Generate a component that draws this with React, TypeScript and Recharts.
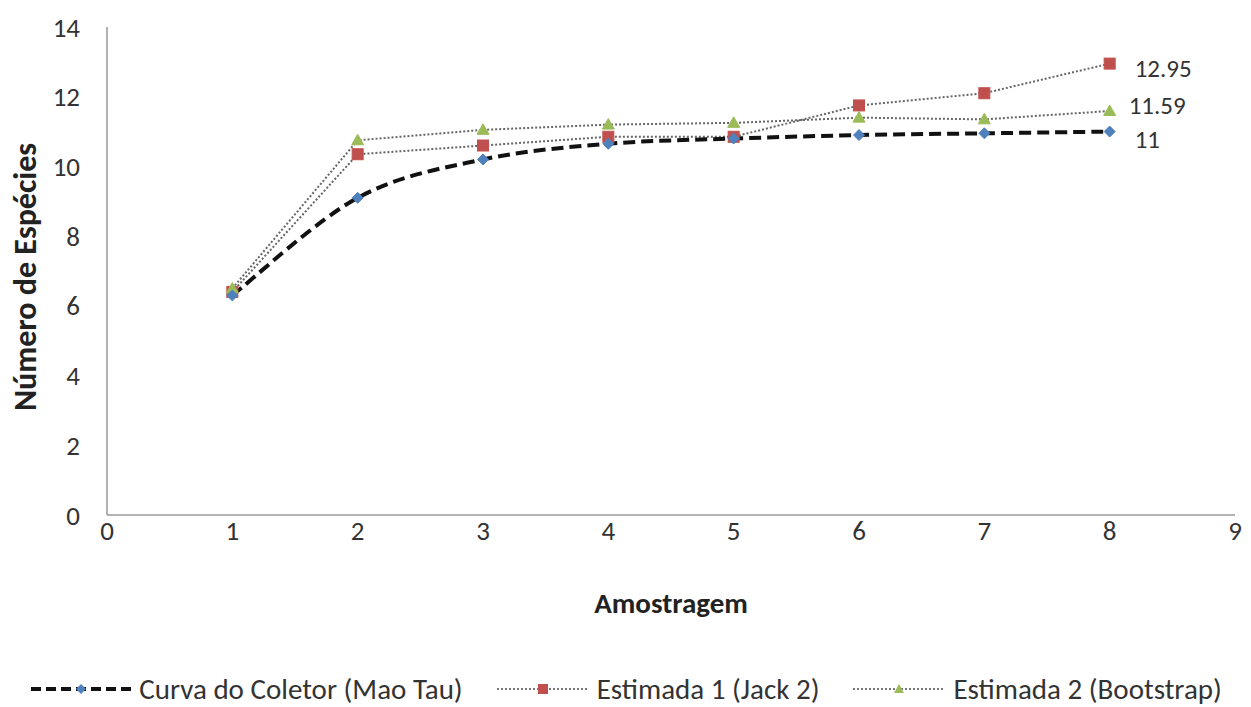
import React from 'react';
import { LineChart, Line, XAxis, YAxis, Legend } from 'recharts';

const samples = [1, 2, 3, 4, 5, 6, 7, 8];
const maoTau = [6.3, 9.1, 10.2, 10.65, 10.8, 10.9, 10.95, 11];
const jack2 = [6.4, 10.35, 10.6, 10.85, 10.85, 11.75, 12.1, 12.95];
const bootstrap = [6.5, 10.75, 11.05, 11.2, 11.25, 11.4, 11.35, 11.59];
const xTicks = [0, 1, 2, 3, 4, 5, 6, 7, 8, 9];
const yTicks = [0, 2, 4, 6, 8, 10, 12, 14];

const seriesNames = ['Curva do Coletor (Mao Tau)', 'Estimada 1 (Jack 2)', 'Estimada 2 (Bootstrap)'];
const data = samples.map((s, i) => ({ x: s, maoTau: maoTau[i], jack2: jack2[i], bootstrap: bootstrap[i] }));

const FONT = "Carlito, 'Open Sans', sans-serif";
const BLUE = '#4F81BD';
const RED = '#C0504D';
const GREEN = '#9BBB59';
const TEXT = '#333';

// Excel-like smoothed line (Catmull-Rom to Bezier)
const excelSmooth = (context: any) => {
  let pts: number[][] = [];
  return {
    areaStart() {},
    areaEnd() {},
    lineStart() {
      pts = [];
    },
    point(x: number, y: number) {
      pts.push([x, y]);
    },
    lineEnd() {
      if (!pts.length) return;
      context.moveTo(pts[0][0], pts[0][1]);
      for (let i = 0; i < pts.length - 1; i++) {
        const p0 = pts[i - 1] || pts[i];
        const p1 = pts[i];
        const p2 = pts[i + 1];
        const p3 = pts[i + 2] || p2;
        context.bezierCurveTo(
          p1[0] + (p2[0] - p0[0]) / 6,
          p1[1] + (p2[1] - p0[1]) / 6,
          p2[0] - (p3[0] - p1[0]) / 6,
          p2[1] - (p3[1] - p1[1]) / 6,
          p2[0],
          p2[1]
        );
      }
    },
  };
};

const Diamond = (p: any) => {
  const { cx, cy } = p;
  if (cx == null || cy == null) return null;
  const r = 5.5;
  return <path d={`M${cx},${cy - r}L${cx + r},${cy}L${cx},${cy + r}L${cx - r},${cy}Z`} fill={BLUE} stroke={BLUE} strokeWidth={1} />;
};
const Square = (p: any) => {
  const { cx, cy } = p;
  if (cx == null || cy == null) return null;
  return <rect x={cx - 5.5} y={cy - 5.5} width={11} height={11} fill={RED} stroke={RED} />;
};
const Triangle = (p: any) => {
  const { cx, cy } = p;
  if (cx == null || cy == null) return null;
  const r = 6;
  return <path d={`M${cx},${cy - r}L${cx + r},${cy + r * 0.75}L${cx - r},${cy + r * 0.75}Z`} fill={GREEN} stroke={GREEN} />;
};

const makeEndLabel = (dx: number, dy: number) => (props: any) => {
  const { x, y, value, index } = props;
  if (index !== samples.length - 1) return null;
  return (
    <text x={x + dx} y={y + dy} fontFamily={FONT} fontSize={25} fill={TEXT} dominantBaseline="central">
      {value}
    </text>
  );
};

const LegendContent = () => {
  const items = [
    { name: seriesNames[0], kind: 'dash', color: BLUE, w: 104 },
    { name: seriesNames[1], kind: 'dot', color: RED, w: 96 },
    { name: seriesNames[2], kind: 'dot', color: GREEN, w: 96 },
  ];
  return (
    <div style={{ display: 'flex', justifyContent: 'center', alignItems: 'center', gap: 32, height: 36, fontFamily: FONT, fontSize: 29, color: TEXT }}>
      {items.map((it, i) => (
        <div key={i} style={{ display: 'flex', alignItems: 'center', gap: 6 }}>
          <svg width={it.w} height={20}>
            {it.kind === 'dash' ? (
              <line x1={2} y1={10} x2={it.w - 2} y2={10} stroke="#111" strokeWidth={4} strokeDasharray="10 5" />
            ) : (
              <line x1={2} y1={10} x2={it.w - 2} y2={10} stroke="#777" strokeWidth={2} strokeDasharray="2 2" />
            )}
            {i === 0 && <path d={`M${it.w / 2},5L${it.w / 2 + 5},10L${it.w / 2},15L${it.w / 2 - 5},10Z`} fill={it.color} />}
            {i === 1 && <rect x={it.w / 2 - 5} y={5} width={10} height={10} fill={it.color} />}
            {i === 2 && <path d={`M${it.w / 2},5L${it.w / 2 + 5},14L${it.w / 2 - 5},14Z`} fill={it.color} />}
          </svg>
          <span>{it.name}</span>
        </div>
      ))}
    </div>
  );
};

export default function App() {
  return (
    <div style={{ position: 'absolute', left: 0, top: 0, width: 1251, height: 707, background: '#fff' }}>
      <LineChart width={1251} height={707} data={data} margin={{ top: 27, right: 16, left: 0, bottom: 46 }}>
        <XAxis
          dataKey="x"
          type="number"
          domain={[0, 9]}
          ticks={xTicks}
          interval={0}
          height={110}
          tickLine={false}
          axisLine={{ stroke: '#999', strokeWidth: 1.5 }}
          tick={{ fontFamily: FONT, fontSize: 27, fill: TEXT }}
          tickSize={4}
          tickMargin={2}
          label={{
            content: (p: any) => {
              const vb = p.viewBox;
              return (
                <text x={vb.x + vb.width / 2} y={vb.y + 98} textAnchor="middle" fontFamily={FONT} fontWeight="bold" fontSize={29} fill="#222">
                  Amostragem
                </text>
              );
            },
          }}
        />
        <YAxis
          type="number"
          domain={[0, 14]}
          ticks={yTicks}
          interval={0}
          width={107}
          tickLine={false}
          axisLine={{ stroke: '#999', strokeWidth: 1.5 }}
          tick={{ fontFamily: FONT, fontSize: 27, fill: TEXT }}
          tickSize={20}
          tickMargin={7}
          label={{
            content: (p: any) => {
              const vb = p.viewBox;
              const cy = vb.y + vb.height / 2 + 6;
              return (
                <text x={25} y={cy} transform={`rotate(-90, 25, ${cy})`} textAnchor="middle" dominantBaseline="central" fontFamily={FONT} fontWeight="bold" fontSize={32} fill="#222">
                  Número de Espécies
                </text>
              );
            },
          }}
        />
        <Legend verticalAlign="bottom" content={<LegendContent />} wrapperStyle={{ bottom: 0, left: 0, width: 1251 }} />
        <Line
          type="linear"
          dataKey="jack2"
          name={seriesNames[1]}
          stroke="#666"
          strokeWidth={2}
          strokeDasharray="2 2"
          dot={<Square />}
          isAnimationActive={false}
          label={makeEndLabel(25, 5)}
        />
        <Line
          type="linear"
          dataKey="bootstrap"
          name={seriesNames[2]}
          stroke="#666"
          strokeWidth={2}
          strokeDasharray="2 2"
          dot={<Triangle />}
          isAnimationActive={false}
          label={makeEndLabel(19, -6)}
        />
        <Line
          type={excelSmooth as any}
          dataKey="maoTau"
          name={seriesNames[0]}
          stroke="#111"
          strokeWidth={4}
          strokeDasharray="12 6"
          dot={<Diamond />}
          isAnimationActive={false}
          label={makeEndLabel(25, 8)}
        />
      </LineChart>
    </div>
  );
}
